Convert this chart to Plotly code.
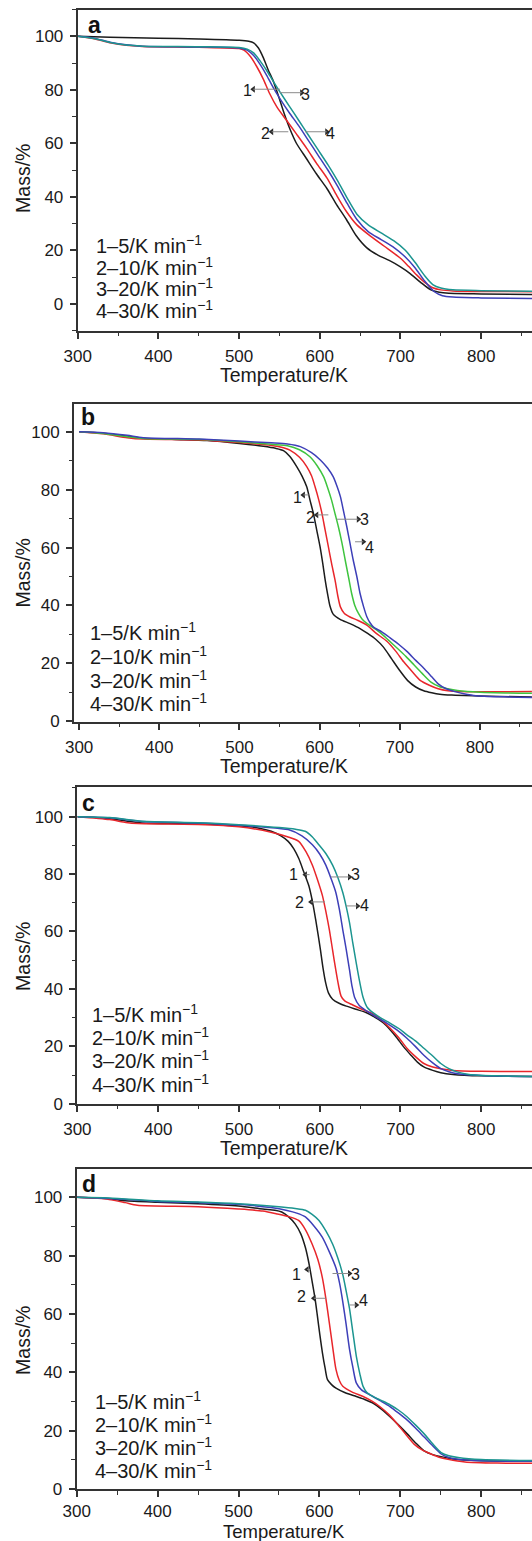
import plotly.graph_objects as go

# ---------------- data ----------------
# Panel a
A1_T = [300, 340, 400, 450, 500, 512, 518, 524, 530, 536, 542, 549, 556, 563, 571, 583, 596, 609, 621, 633, 645, 658, 672, 686, 700, 712, 725, 737, 748, 760, 800, 863]
A1_M = [100, 99.6, 99.3, 99, 98.5, 98.1, 97.5, 95.6, 92, 87.5, 83.5, 77.5, 71, 65.3, 60, 54.5, 48.5, 43, 37, 31.5, 25.5, 21, 18.2, 16.2, 13.8, 11.3, 8, 5.3, 4.3, 3.9, 3.7, 3.5]
A2_T = [300, 320, 340, 360, 380, 450, 500, 506, 514, 522, 530, 538, 547, 559, 571, 584, 596, 609, 621, 633, 646, 662, 680, 700, 710, 720, 730, 740, 750, 765, 800, 863]
A2_M = [100, 99.1, 97.6, 96.6, 96.2, 95.9, 95.4, 94.8, 92.4, 88.6, 84, 78.5, 73.5, 68.5, 63.5, 58, 52.5, 47, 40.5, 34.5, 29.5, 25.5, 21.5, 17, 14, 10.8, 8, 6, 5.2, 4.8, 4.6, 4.5]
A3_T = [300, 320, 340, 360, 380, 450, 500, 510, 518, 526, 534, 542, 551, 562, 574, 586, 598, 610, 622, 634, 646, 660, 676, 692, 706, 718, 730, 742, 752, 765, 800, 863]
A3_M = [100, 99.3, 97.8, 96.8, 96.3, 96, 95.6, 94.8, 92.8, 89.5, 85.5, 81, 76.5, 71.5, 66.5, 61, 55.5, 50, 44, 37.5, 31.5, 27, 24, 21, 17.5, 13.5, 8.5, 4.5, 3, 2.5, 2.2, 2.0]
A4_T = [300, 320, 340, 360, 380, 450, 500, 510, 518, 526, 534, 542, 551, 562, 574, 586, 598, 610, 622, 634, 646, 660, 676, 692, 706, 718, 730, 740, 750, 765, 800, 863]
A4_M = [100, 99.2, 97.7, 96.7, 96.3, 96.1, 95.8, 95.2, 93.8, 90.8, 87.3, 83.3, 79, 74, 68.5, 63, 57.5, 52, 46, 39.5, 33.5, 29.5, 26.5, 23.5, 20, 15.5, 10.5, 7.2, 5.9, 5.2, 4.9, 4.7]

# Panel b
B1_T = [300, 330, 360, 380, 420, 460, 500, 530, 545, 555, 563, 571.5, 578, 584, 588, 592.3, 596.5, 600.6, 604, 607, 610, 613, 617, 625.6, 638, 650.5, 660, 670, 680, 690, 700, 710, 720, 730, 740, 750, 765, 800, 865]
B1_M = [100, 99.5, 98.5, 97.8, 97.4, 97, 96, 95, 94.3, 93.5, 91.5, 88, 84.8, 81, 76.5, 71.8, 66, 60.3, 54.5, 48.8, 44, 39.8, 37, 35.2, 33.7, 32, 30.3, 28.3, 25.5, 21.5, 17.5, 14, 11.8, 10.5, 9.8, 9.3, 9, 8.7, 8.3]
B2_T = [300, 330, 360, 380, 450, 500, 540, 555, 563, 575, 584, 590, 594.4, 599, 603, 607, 611, 615, 619.3, 623, 626, 631, 638, 648, 659, 670, 684, 695, 705, 716, 726, 737, 748, 760, 775, 865]
B2_M = [100, 99.3, 98, 97.5, 97.2, 96.3, 95.3, 94.5, 93.7, 91.2, 88, 84.8, 81, 76.5, 71.8, 66, 60.3, 54.5, 48.8, 43, 39.5, 37.2, 36, 34.8, 33.2, 30.5, 27.6, 24.2, 20.5, 17, 14, 12.4, 11.2, 10.5, 10.2, 10.2]
B3_T = [300, 330, 360, 380, 450, 500, 540, 560, 575, 588, 597, 605, 610, 615, 619.5, 623.5, 628, 632, 636, 640, 644, 648.4, 653, 659, 667, 676, 686, 697, 708, 718, 728, 739, 750, 760, 772, 800, 865]
B3_M = [100, 99.4, 98.3, 97.7, 97.4, 96.6, 95.7, 95.2, 93.8, 91.4, 88.3, 84.5, 80.8, 76.4, 71.5, 67.2, 61.5, 55.7, 50, 44.2, 40, 37.3, 35.3, 33.8, 32.3, 30.5, 28, 25.2, 22.3, 19.4, 16.5, 13.5, 11.9, 11.2, 10.6, 10, 9.6]
B4_T = [300, 330, 360, 380, 450, 500, 540, 560, 576, 590, 601, 610, 617, 622, 626, 630, 634, 638, 642, 646.5, 650.5, 655, 659, 663, 667, 678, 688, 699, 709, 720, 731, 740, 748, 758, 769, 780, 795, 830, 865]
B4_M = [100, 99.7, 98.8, 98, 97.5, 96.8, 96.2, 95.8, 94.9, 92.8, 90.3, 87.5, 84.5, 81, 77.6, 72.5, 67.2, 61.5, 55.7, 50, 44.2, 39.5, 36.1, 34, 32.6, 30.8, 28.8, 26.5, 24.1, 21, 18, 15.3, 12.9, 11.2, 10.2, 9.5, 8.8, 8.4, 8.2]

# Panel c
C1_T = [300, 330, 360, 380, 450, 500, 525, 540, 552, 561, 568, 574, 580, 586.5, 591, 595, 598, 601, 604, 607.5, 611, 616, 624, 633, 645, 658, 669, 679, 688, 696, 704, 713, 721, 729, 740, 750, 765, 800, 863]
C1_M = [100, 99.6, 98.5, 97.8, 97.5, 96.8, 96, 94.9, 93.3, 91.4, 88.8, 85.5, 81, 76, 70.5, 64.2, 59, 53.5, 47.5, 42, 38.5, 36.4, 35, 34, 32.9, 31.7, 30, 28.1, 25.5, 22.8, 19.8, 16.9, 14.5, 12.8, 11.6, 10.8, 10.2, 9.7, 9.5]
C2_T = [300, 340, 360, 375, 450, 500, 540, 560, 574, 583, 591, 597, 603.4, 608, 612, 616, 620, 623.5, 626.5, 631, 641, 653, 666, 677, 687, 698, 708, 719, 729, 740, 750, 765, 800, 863]
C2_M = [100, 99, 98, 97.6, 97.3, 96.5, 94.6, 93, 91.4, 87.8, 83.1, 78.3, 72.5, 66.5, 60.6, 53.5, 46.5, 41, 37.5, 35.8, 34.4, 32.8, 31.3, 29, 26.4, 23, 19.3, 16.3, 14, 12.8, 12.2, 11.6, 11.3, 11.2]
C3_T = [300, 340, 380, 450, 500, 530, 561, 578, 591, 600, 607.6, 614, 620, 624.5, 628.6, 633, 637, 640, 643.3, 649, 658, 670, 683, 696, 708, 719, 729, 740, 750, 760, 771, 800, 863]
C3_M = [100, 99.6, 98.3, 97.8, 97, 96.4, 95.5, 93.3, 90.2, 87, 83.1, 78.5, 73.6, 67.5, 60.6, 53.5, 46.5, 41, 37, 34.2, 32.3, 30.2, 28.1, 25.6, 22.8, 19.8, 16.9, 14.2, 12.2, 11.1, 10.4, 9.8, 9.5]
C4_T = [300, 340, 380, 450, 500, 550, 570, 582, 591, 599, 608, 616, 622.5, 628.6, 633, 637, 641, 645.4, 649.5, 653.8, 659, 666, 676, 687, 698, 708, 719, 729, 740, 750, 760, 771, 785, 820, 863]
C4_M = [100, 99.7, 98.4, 97.9, 97.2, 96.2, 95.6, 94.9, 92.9, 90.2, 87, 83.1, 78.8, 73.6, 68.5, 63, 56, 48.8, 42.5, 37, 33.5, 31.7, 29.8, 28.1, 26.2, 24, 21.8, 19.3, 16.6, 14, 12.2, 11, 10.2, 9.7, 9.5]

# Panel d
D1_T = [300, 340, 360, 400, 450, 500, 530, 545, 553.4, 562, 570, 577, 582.7, 587, 591, 594.5, 597.4, 600.5, 603.7, 607, 610, 615, 620.5, 632, 645.6, 656, 666.6, 677, 687.6, 698, 708.6, 719, 729.5, 740, 750.5, 765, 800, 863]
D1_M = [100, 99.5, 98.8, 98.3, 97.8, 97, 96, 95.6, 95, 93.3, 90.9, 87.5, 82.8, 77.5, 71.2, 65.5, 59.6, 53, 46.8, 41.5, 37.5, 35.8, 34.6, 33, 31.7, 30.7, 29.4, 27.3, 24.7, 21.9, 18.9, 15.8, 13.1, 11.8, 11.1, 10.3, 9.7, 9.5]
D2_T = [300, 340, 360, 375, 450, 500, 530, 548, 562, 574.3, 583, 591, 598, 603.7, 608, 612.1, 616.5, 620.5, 624.5, 628.9, 640, 654, 665, 675, 686, 696, 706, 717, 727, 738, 748, 759, 780, 820, 863]
D2_M = [100, 99.3, 98.2, 97.3, 96.8, 96, 95.3, 94.3, 93.4, 92.1, 88.8, 84, 78.8, 72.4, 65.3, 57.3, 48.5, 41, 37.3, 35.2, 33.3, 31.7, 30.1, 28.2, 25.5, 22.4, 19, 15.4, 13.4, 12, 10.9, 10.2, 9.3, 8.9, 8.8]
D3_T = [300, 340, 400, 450, 500, 540, 560, 572, 582.7, 593, 603.7, 612, 620.5, 625, 628.9, 633, 637.2, 641.5, 645.6, 652, 662.4, 675, 687.6, 698, 708.6, 719, 729.5, 740, 750.5, 760, 771.5, 800, 863]
D3_M = [100, 99.6, 98.6, 98.2, 97.6, 96.5, 95.5, 94.6, 93.3, 90.3, 86.3, 81.5, 75.8, 70.5, 64.2, 56.5, 48, 41.5, 36.4, 34, 32.3, 30.3, 28.2, 26, 23.6, 20.8, 17.8, 14.8, 12, 10.8, 10.2, 9.7, 9.5]
D4_T = [300, 340, 400, 450, 500, 550, 570, 582.7, 591, 599.5, 608, 616.3, 623, 628.9, 633, 637.2, 641.5, 645.6, 650, 654, 659, 666.6, 677, 687.6, 698, 708.6, 719, 729.5, 740, 750.5, 760, 771.5, 800, 863]
D4_M = [100, 99.8, 98.8, 98.4, 97.8, 96.8, 96.2, 95.6, 94.2, 92.1, 88.5, 84, 79, 73.5, 68, 61.9, 53.5, 45.6, 39.5, 35.2, 33, 31.7, 30.3, 28.8, 27, 24.7, 21.9, 18.9, 15.5, 12.5, 11.4, 10.8, 10.1, 9.8]

LEGEND_LINES = ["1–5/K min<sup>−1</sup>", "2–10/K min<sup>−1</sup>",
                "3–20/K min<sup>−1</sup>", "4–30/K min<sup>−1</sup>"]
PANEL_LETTERS = ["a", "b", "c", "d"]
X_TICKS = [300, 400, 500, 600, 700, 800]
Y_TICKS = [0, 20, 40, 60, 80, 100]

# ---------------- styling / layout ----------------
W, H = 532, 1541
FONT = "Liberation Sans, Arial, Helvetica, sans-serif"
BLACK, RED, BLUE, TEAL, GREEN = "#1c1c1c", "#e8262b", "#3d3fb8", "#1c9590", "#3fc43f"
AX = "#333333"
TXT = "#1a1a1a"

panels = [
    dict(series=[(A1_T, A1_M, BLACK), (A2_T, A2_M, RED), (A3_T, A3_M, BLUE), (A4_T, A4_M, TEAL)],
         left=77.7, top=9.5, bottom=330.8, xr=[300, 863], yr=[-10.1, 110],
         letter=(94.7, 25.4), legend_x=94.3, legend_y=[244.7, 266.4, 287.7, 309.5],
         ytitle_y=178, xtitle_y=375, xtitle_size=19.5, standoff=3,
         labels=[("1", 511, 79.6), ("3", 582.9, 78.3), ("2", 533.3, 63.5), ("4", 613.9, 63.8)],
         leaders=[(517.6, 80.2, 550.7, "triangle-left"), (577.6, 78.9, 550.7, "triangle-right"),
                  (540.4, 64.3, 561, "triangle-left"), (608.6, 64.3, 581.7, "triangle-right")]),
    dict(series=[(B1_T, B1_M, BLACK), (B2_T, B2_M, RED), (B3_T, B3_M, GREEN), (B4_T, B4_M, BLUE)],
         left=74.0, top=403.8, bottom=721.7, xr=[293.6, 865.1], yr=[-0.2, 109.7],
         letter=(88.2, 417.3), legend_x=87.5, legend_y=[631.8, 655.5, 679.3, 702.4],
         ytitle_y=572.6, xtitle_y=766, xtitle_size=19.5, standoff=3,
         labels=[("1", 571.9, 77.3), ("2", 588.1, 70.4), ("3", 656.7, 69.8), ("4", 661.7, 60)],
         leaders=[(579.8, 78.2, 586.5, "triangle-left"), (596.5, 71.3, 611, "triangle-left"),
                  (648.4, 69.8, 621.5, "triangle-right"), (654.6, 62, 644.3, "triangle-right")]),
    dict(series=[(C1_T, C1_M, BLACK), (C2_T, C2_M, RED), (C3_T, C3_M, BLUE), (C4_T, C4_M, TEAL)],
         left=77.4, top=787.1, bottom=1103.7, xr=[300, 862.9], yr=[0, 110.3],
         letter=(88.6, 802.8), legend_x=89.9, legend_y=[1013.5, 1036.9, 1059.6, 1083],
         ytitle_y=956, xtitle_y=1148, xtitle_size=19.5, standoff=3,
         labels=[("1", 567.6, 79.9), ("3", 644.4, 79.9), ("2", 575, 70.1), ("4", 654.9, 69.2)],
         leaders=[(582.3, 79.8, 587.5, "triangle-left"), (636.9, 79, 613.8, "triangle-right"),
                  (589.3, 70.3, 606.6, "triangle-left"), (646.8, 68.9, 632.6, "triangle-right")]),
    dict(series=[(D1_T, D1_M, BLACK), (D2_T, D2_M, RED), (D3_T, D3_M, BLUE), (D4_T, D4_M, TEAL)],
         left=76.7, top=1168.5, bottom=1489, xr=[300, 862.8], yr=[0, 109.9],
         letter=(88.9, 1184.3), legend_x=93.3, legend_y=[1400.5, 1423.5, 1446, 1469],
         ytitle_y=1340, xtitle_y=1531.2, xtitle_size=18.5, standoff=0,
         labels=[("1", 571.1, 73.6), ("3", 644.6, 73.6), ("2", 577.9, 65.9), ("4", 655.1, 64.7)],
         leaders=[(584.8, 75.3, 588.5, "triangle-left"), (637.2, 73.9, 616.2, "triangle-right"),
                  (593.2, 65.4, 607.9, "triangle-left"), (645.6, 63.1, 637.2, "triangle-right")]),
]

fig = go.Figure()
annotations = []
shapes = []
layout_axes = {}

for i, p in enumerate(panels):
    n = "" if i == 0 else str(i + 1)
    xa, ya = "x" + n, "y" + n
    for T, M, col in p["series"]:
        fig.add_trace(go.Scatter(x=T, y=M, mode="lines", xaxis=xa, yaxis=ya,
                                 line=dict(color=col, width=1.5, shape="spline", smoothing=0.7),
                                 showlegend=False, hoverinfo="skip"))
    # leader lines (grey) with small dark arrowheads next to the labels
    hx_list, hy_list, sym_list = [], [], []
    for hx, hy, tx, sym in p["leaders"]:
        shapes.append(dict(type="line", xref=xa, yref=ya, x0=hx, y0=hy, x1=tx, y1=hy,
                           line=dict(color="#8a8a8a", width=1)))
        hx_list.append(hx)
        hy_list.append(hy)
        sym_list.append(sym)
    fig.add_trace(go.Scatter(x=hx_list, y=hy_list, mode="markers", xaxis=xa, yaxis=ya,
                             marker=dict(symbol=sym_list, size=6, color="#2a2a2a", line=dict(width=0)),
                             showlegend=False, hoverinfo="skip"))
    tick_font = dict(family=FONT, size=17, color=TXT)
    layout_axes["xaxis" + n] = dict(
        domain=[p["left"] / W, 1], range=p["xr"], anchor=ya, automargin=False,
        tickvals=X_TICKS, ticks="outside", ticklen=6, tickwidth=1.5, tickcolor=AX,
        ticklabelstandoff=p["standoff"],
        showline=True, linewidth=2, linecolor=AX, mirror=True,
        showgrid=False, zeroline=False, tickfont=tick_font,
        minor=dict(dtick=50, tick0=300, ticks="outside", ticklen=3.5, tickwidth=1.2, tickcolor=AX),
    )
    layout_axes["yaxis" + n] = dict(
        domain=[1 - p["bottom"] / H, 1 - p["top"] / H], range=p["yr"], anchor=xa, automargin=False,
        tickvals=Y_TICKS, ticks="outside", ticklen=6, tickwidth=1.5, tickcolor=AX,
        ticklabelstandoff=3,
        showline=True, linewidth=2, linecolor=AX, mirror=False,
        showgrid=False, zeroline=False, tickfont=tick_font,
        minor=dict(dtick=10, tick0=0, ticks="outside", ticklen=3.5, tickwidth=1.2, tickcolor=AX),
    )
    lx, ly = p["letter"]
    annotations.append(dict(xref="paper", yref="paper", x=lx / W, y=1 - ly / H,
                            text="<b>%s</b>" % PANEL_LETTERS[i], showarrow=False,
                            xanchor="center", yanchor="middle",
                            font=dict(family=FONT, size=23, color="#111")))
    for line, yy in zip(LEGEND_LINES, p["legend_y"]):
        annotations.append(dict(xref="paper", yref="paper", x=p["legend_x"] / W, y=1 - yy / H,
                                text=line, showarrow=False, xanchor="left", yanchor="middle",
                                font=dict(family=FONT, size=20, color=TXT)))
    annotations.append(dict(xref="paper", yref="paper", x=22.9 / W, y=1 - p["ytitle_y"] / H,
                            text="Mass/%", textangle=-90, showarrow=False,
                            xanchor="center", yanchor="middle",
                            font=dict(family=FONT, size=19.5, color=TXT)))
    annotations.append(dict(xref="paper", yref="paper", x=284.2 / W, y=1 - p["xtitle_y"] / H,
                            text="Temperature/K", showarrow=False,
                            xanchor="center", yanchor="middle",
                            font=dict(family=FONT, size=p["xtitle_size"], color=TXT)))
    for txt, tx, ty in p["labels"]:
        annotations.append(dict(xref=xa, yref=ya, x=tx, y=ty, text=txt, showarrow=False,
                                xanchor="center", yanchor="middle",
                                font=dict(family=FONT, size=16, color=TXT)))

fig.update_layout(
    width=W, height=H, margin=dict(l=0, r=0, t=0, b=0),
    paper_bgcolor="white", plot_bgcolor="white",
    annotations=annotations, shapes=shapes, showlegend=False, **layout_axes,
)

fig.write_html("out.html")
